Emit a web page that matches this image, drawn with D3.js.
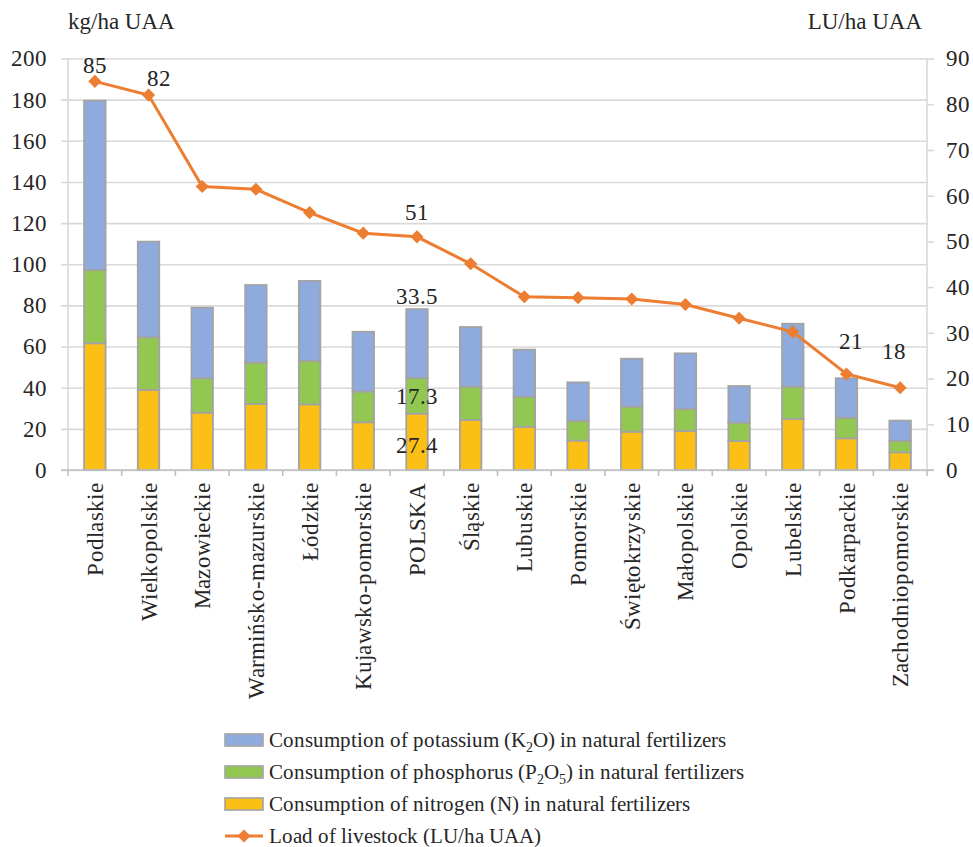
<!DOCTYPE html>
<html>
<head>
<meta charset="utf-8">
<script src="https://cdn.jsdelivr.net/npm/d3@7/dist/d3.min.js"></script>
<style>
  @font-face { font-family: "ChartSerif"; src: local("Liberation Serif"), local("LiberationSerif"), local("Liberation Serif Regular"), local("LiberationSerif-Regular"); }
</style>
</head>
<body style="margin:0; background:#fff">
<div id="wrap" style="position:relative; width:973px; height:847px;">
<svg id="chart" width="973" height="847" style="position:absolute; left:0; top:0;"></svg>
</div>
<script>
// Voivodeships, sorted by livestock load
const regions = ["Podlaskie", "Wielkopolskie", "Mazowieckie", "Warmińsko-mazurskie", "Łódzkie",
  "Kujawsko-pomorskie", "POLSKA", "Śląskie", "Lubuskie", "Pomorskie", "Świętokrzyskie",
  "Małopolskie", "Opolskie", "Lubelskie", "Podkarpackie", "Zachodniopomorskie"];

// kg/ha UAA from natural fertilizers
const nitrogen   = [61.6, 38.9, 27.9, 32.1, 31.9, 23.2, 27.4, 24.3, 21.0, 14.3, 18.6, 19.0, 14.1, 24.8, 15.4, 8.6];
const phosphorus = [35.6, 25.6, 16.7, 20.1, 21.1, 14.9, 17.3, 16.2, 14.6, 9.5, 12.2, 10.6, 8.9, 15.7, 10.0, 5.5];
const potassium  = [82.3, 46.5, 34.3, 37.7, 38.9, 29.1, 33.5, 29.0, 22.9, 18.8, 23.3, 27.1, 17.8, 30.6, 19.2, 9.9];

// LU/ha UAA
const livestock = [85, 82, 62.0, 61.4, 56.3, 51.8, 51, 45.1, 37.9, 37.7, 37.4, 36.2, 33.2, 30.2, 21, 18];

const leftTicks = [0, 20, 40, 60, 80, 100, 120, 140, 160, 180, 200];
const rightTicks = [0, 10, 20, 30, 40, 50, 60, 70, 80, 90];

// which points carry a value label on the line
const livestockLabelled = ["Podlaskie", "Wielkopolskie", "POLSKA", "Podkarpackie", "Zachodniopomorskie"];

const colors = { K: "#8faadc", P: "#92c852", N: "#fbbf16", line: "#ed7d31", edge: "#a3a3a3", grid: "#d9d9d9", text: "#262626" };
const FONT = '"ChartSerif", "Liberation Serif"';
const FS = "23px";
const FS_LEGEND = "20.5px";

const wrap = d3.select("#wrap");
const svg = d3.select("#chart");
const plot = { left: 68, right: 927, top: 58.5, bottom: 470 };

const x = d3.scaleBand().domain(regions).range([plot.left, plot.right]).paddingInner(0.6).paddingOuter(0.3);
const yL = d3.scaleLinear().domain([0, 200]).range([plot.bottom, plot.top]);
const yR = d3.scaleLinear().domain([0, 90]).range([plot.bottom, plot.top]);

// gridlines + left ticks
const leftAxis = d3.axisLeft(yL).tickValues(leftTicks).tickSize(plot.right - plot.left + 7).tickPadding(14);
const gL = svg.append("g").attr("transform", `translate(${plot.right},0)`).call(leftAxis);
gL.attr("font-family", null).attr("font-size", null);
gL.select(".domain").remove();
gL.selectAll(".tick line").attr("stroke", colors.grid).attr("stroke-width", 1.6);
gL.selectAll(".tick text").attr("x", -(plot.right - plot.left) - 21).attr("fill", colors.text);

// left axis line
svg.append("line").attr("x1", plot.left).attr("x2", plot.left).attr("y1", plot.top).attr("y2", plot.bottom)
  .attr("stroke", colors.grid).attr("stroke-width", 1.6);

// right axis
const rightAxis = d3.axisRight(yR).tickValues(rightTicks).tickSize(7).tickPadding(12);
const gR = svg.append("g").attr("transform", `translate(${plot.right},0)`).call(rightAxis);
gR.attr("font-family", null).attr("font-size", null);
gR.select(".domain").attr("stroke", colors.grid).attr("stroke-width", 1.6).attr("d", `M0,${plot.top}V${plot.bottom}`);
gR.selectAll(".tick line").attr("stroke", colors.grid).attr("stroke-width", 1.6);
gR.selectAll(".tick text").attr("fill", colors.text);

// stacked bars
const stackData = regions.map((r, i) => ({ region: r, N: nitrogen[i], P: phosphorus[i], K: potassium[i] }));
const series = d3.stack().keys(["N", "P", "K"])(stackData);
svg.append("g").selectAll("g").data(series).join("g")
  .attr("fill", d => colors[d.key])
  .selectAll("rect").data(d => d).join("rect")
  .attr("x", d => x(d.data.region))
  .attr("width", x.bandwidth())
  .attr("y", d => yL(d[1]))
  .attr("height", d => yL(d[0]) - yL(d[1]))
  .attr("stroke", colors.edge).attr("stroke-width", 1.8);

// category axis
const step = x.step();
const bottomAxis = d3.axisBottom(x).tickSize(0).tickPadding(0);
const gB = svg.append("g").attr("transform", `translate(0,${plot.bottom})`).call(bottomAxis);
gB.attr("font-family", null).attr("font-size", null);
gB.select(".domain").attr("stroke", "#bfbfbf").attr("stroke-width", 1.6).attr("d", `M${plot.left - 7},0H${plot.right + 7}`);
gB.selectAll(".tick text")
  .attr("transform", "rotate(-90)")
  .attr("x", -13).attr("y", 0).attr("dy", "0.35em")
  .attr("text-anchor", "end").attr("fill", colors.text)
  .style("letter-spacing", "0.3px");
gB.selectAll(".sep").data(d3.range(regions.length + 1)).join("line").attr("class", "sep")
  .attr("x1", i => plot.left + i * step).attr("x2", i => plot.left + i * step)
  .attr("y1", 0).attr("y2", 6).attr("stroke", "#bfbfbf").attr("stroke-width", 1.6);

// livestock line
const line = d3.line().x((d, i) => x(regions[i]) + x.bandwidth() / 2).y(d => yR(d));
svg.append("path").datum(livestock).attr("d", line)
  .attr("fill", "none").attr("stroke", colors.line).attr("stroke-width", 3);
const diamond = d3.symbol().type(d3.symbolDiamond2).size(110);
svg.append("g").selectAll("path").data(livestock).join("path")
  .attr("d", diamond)
  .attr("transform", (d, i) => `translate(${x(regions[i]) + x.bandwidth() / 2},${yR(d)})`)
  .attr("fill", colors.line);

// value labels on the line (offsets keep them clear of the line)
const lineLabelOffset = {
  "Podlaskie": [0, -8], "Wielkopolskie": [10, -9], "POLSKA": [0, -17],
  "Podkarpackie": [5, -25], "Zachodniopomorskie": [-6, -29]
};
svg.append("g").selectAll("text").data(livestockLabelled).join("text")
  .attr("x", r => x(r) + x.bandwidth() / 2 + lineLabelOffset[r][0])
  .attr("y", r => yR(livestock[regions.indexOf(r)]) + lineLabelOffset[r][1])
  .attr("text-anchor", "middle").attr("fill", colors.text)
  .text(r => livestock[regions.indexOf(r)]);

// value labels on the POLSKA bar
const pIdx = regions.indexOf("POLSKA");
const pcx = x("POLSKA") + x.bandwidth() / 2;
const polskaLabels = [
  { v: potassium[pIdx], y: yL(nitrogen[pIdx] + phosphorus[pIdx] + potassium[pIdx]) - 5 },
  { v: phosphorus[pIdx], y: yL(nitrogen[pIdx] + phosphorus[pIdx] / 2) + 8 },
  { v: nitrogen[pIdx], y: yL(nitrogen[pIdx] / 2) + 11 }
];
svg.append("g").selectAll("text").data(polskaLabels).join("text")
  .attr("x", pcx).attr("y", d => d.y).attr("text-anchor", "middle").attr("fill", colors.text)
  .text(d => d3.format(".1f")(d.v));

// axis titles
const titleStyle = `position:absolute; top:10px; font-family:"Liberation Serif"; font-size:${FS}; line-height:${FS}; color:${colors.text}; white-space:nowrap;`;
wrap.append("div").attr("style", titleStyle + `left:${plot.left}px;`).text("kg/ha UAA");
wrap.append("div").attr("style", titleStyle + `right:${973 - 922}px;`).text("LU/ha UAA");

// legend
const legend = [
  { type: "rect", color: colors.K, parts: [["Consumption of potassium (K", 0], ["2", 1], ["O) in natural fertilizers", 0]] },
  { type: "rect", color: colors.P, parts: [["Consumption of phosphorus (P", 0], ["2", 1], ["O", 0], ["5", 1], [") in natural fertilizers", 0]] },
  { type: "rect", color: colors.N, parts: [["Consumption of nitrogen (N) in natural fertilizers", 0]] },
  { type: "line", color: colors.line, parts: [["Load of livestock (LU/ha UAA)", 0]] }
];
const lg = svg.append("g").attr("transform", "translate(225,740)");
legend.forEach((item, i) => {
  const row = lg.append("g").attr("transform", `translate(0,${i * 32})`);
  if (item.type === "rect") {
    row.append("rect").attr("x", 0).attr("y", -6).attr("width", 38).attr("height", 12)
      .attr("fill", item.color).attr("stroke", colors.edge).attr("stroke-width", 1.6);
  } else {
    row.append("line").attr("x1", 0).attr("x2", 38).attr("y1", 0).attr("y2", 0)
      .attr("stroke", item.color).attr("stroke-width", 3);
    row.append("path").attr("d", diamond).attr("transform", "translate(19,0)").attr("fill", item.color);
  }
  const t = row.append("text").attr("class", "legend").attr("x", 44).attr("y", 0).attr("dy", "0.32em").attr("fill", colors.text);
  item.parts.forEach(([s, sub], k) => {
    const prevSub = k > 0 && item.parts[k - 1][1];
    const ts = t.append("tspan").text(s);
    if (sub) ts.attr("dy", 5).attr("class", "sub");
    else if (prevSub) ts.attr("dy", -5);
  });
});

// one typeface for every text in the chart
svg.selectAll("text")
  .attr("font-family", "ChartSerif, Liberation Serif")
  .style("font-family", FONT)
  .style("font-size", FS);
svg.selectAll("text.legend").style("font-size", FS_LEGEND);
svg.selectAll("tspan.sub").style("font-family", FONT).style("font-size", "14px");
</script>
</body>
</html>
